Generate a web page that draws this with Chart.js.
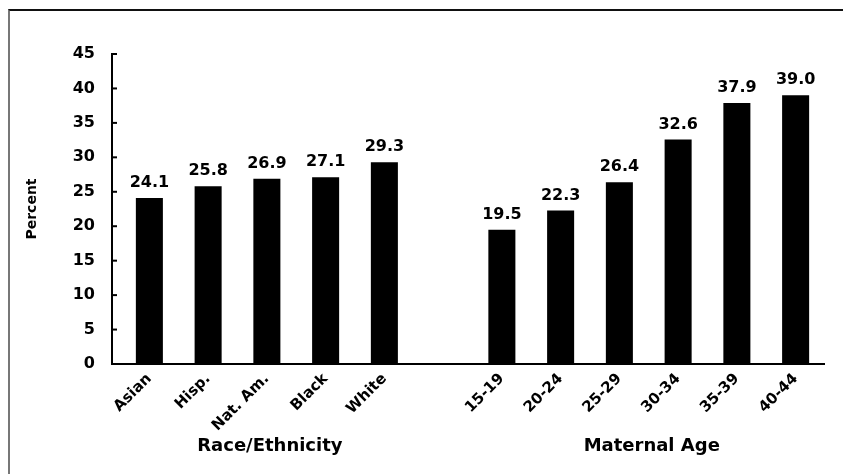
<!DOCTYPE html>
<html>
<head>
<meta charset="utf-8">
<script src="https://cdn.jsdelivr.net/npm/chart.js@4/dist/chart.umd.min.js"></script>
<style>
  html, body { margin: 0; padding: 0; background: #fff; }
  #wrap { position: relative; width: 843px; height: 474px; overflow: hidden; }
  #frame { position: absolute; left: 8px; top: 9px; width: 900px; height: 600px;
           border-top: 2px solid #111; border-left: 2px solid #777; }
  canvas { position: absolute; left: 0; top: 0; }
</style>
</head>
<body>
<div id="wrap">
  <div id="frame"></div>
  <canvas id="c" width="843" height="474"></canvas>
</div>
<script>
// Percent by race/ethnicity and by maternal age
const raceLabels = ['Asian', 'Hisp.', 'Nat. Am.', 'Black', 'White'];
const raceValues = [24.1, 25.8, 26.9, 27.1, 29.3];
const ageLabels = ['15-19', '20-24', '25-29', '30-34', '35-39', '40-44'];
const ageValues = [19.5, 22.3, 26.4, 32.6, 37.9, 39.0];
const yTicks = [0, 5, 10, 15, 20, 25, 30, 35, 40, 45];
const groupTitles = ['Race/Ethnicity', 'Maternal Age'];

// one empty slot separates the two groups
const labels = [...raceLabels, '', ...ageLabels];
const values = [...raceValues, null, ...ageValues];

const FONT = 'DejaVu Sans';
const AXIS_GAP = 8;   // y axis line sits a little left of the first slot

const axesPlugin = {
  id: 'axes',
  afterDraw(chart) {
    const { ctx, chartArea, scales } = chart;
    const y = scales.y, x = scales.x;
    const ax = chartArea.left - AXIS_GAP;
    const y0 = y.getPixelForValue(0);
    const yTop = y.getPixelForValue(yTicks[yTicks.length - 1]);
    ctx.save();
    ctx.strokeStyle = '#000';
    ctx.lineWidth = 2;
    ctx.beginPath();
    ctx.moveTo(ax, yTop - 1);
    ctx.lineTo(ax, y0);
    ctx.lineTo(chartArea.right, y0);
    ctx.stroke();
    // inward tick marks
    yTicks.forEach(v => {
      const py = y.getPixelForValue(v);
      ctx.beginPath();
      ctx.moveTo(ax, py);
      ctx.lineTo(ax + 5, py);
      ctx.stroke();
    });
    // value labels above bars
    ctx.fillStyle = '#000';
    ctx.font = 'bold 16px "' + FONT + '"';
    ctx.textAlign = 'center';
    ctx.textBaseline = 'bottom';
    const meta = chart.getDatasetMeta(0);
    meta.data.forEach((bar, i) => {
      const v = values[i];
      if (v == null) return;
      ctx.fillText(v.toFixed(1), bar.x, bar.y - 7);
    });
    // group titles under the category labels
    ctx.font = 'bold 18px "' + FONT + '"';
    ctx.textBaseline = 'middle';
    const groups = [
      [0, raceLabels.length - 1],
      [raceLabels.length + 1, labels.length - 1]
    ];
    groups.forEach((g, k) => {
      const cx = (x.getPixelForValue(g[0]) + x.getPixelForValue(g[1])) / 2;
      ctx.fillText(groupTitles[k], cx + 3, 446);
    });
    ctx.restore();
  }
};

new Chart(document.getElementById('c'), {
  type: 'bar',
  data: {
    labels: labels,
    datasets: [{
      data: values,
      backgroundColor: '#000',
      borderWidth: 0,
      barPercentage: 0.46,
      categoryPercentage: 1.0
    }]
  },
  options: {
    responsive: false,
    animation: false,
    devicePixelRatio: 1,
    layout: { padding: { top: 54, right: 18, left: 0, bottom: 0 } },
    plugins: { legend: { display: false }, tooltip: { enabled: false } },
    scales: {
      x: {
        type: 'category',
        offset: true,
        grid: { display: false, drawTicks: false },
        border: { display: false },
        ticks: {
          autoSkip: false,
          maxRotation: 45,
          minRotation: 45,
          padding: 6,
          color: '#000',
          font: { family: FONT, weight: 'bold', size: 15 }
        },
        afterFit(s) { s.height = 110; }
      },
      y: {
        min: 0,
        max: 45,
        grid: { display: false, drawTicks: false },
        border: { display: false },
        ticks: {
          stepSize: 5,
          padding: 25,
          color: '#000',
          font: { family: FONT, weight: 'bold', size: 16 }
        },
        title: {
          display: true,
          text: 'Percent',
          color: '#000',
          padding: { top: 24, bottom: 0 },
          font: { family: FONT, weight: 'bold', size: 14 }
        },
        afterFit(s) { s.width = 120; }
      }
    }
  },
  plugins: [axesPlugin]
});
</script>
</body>
</html>
